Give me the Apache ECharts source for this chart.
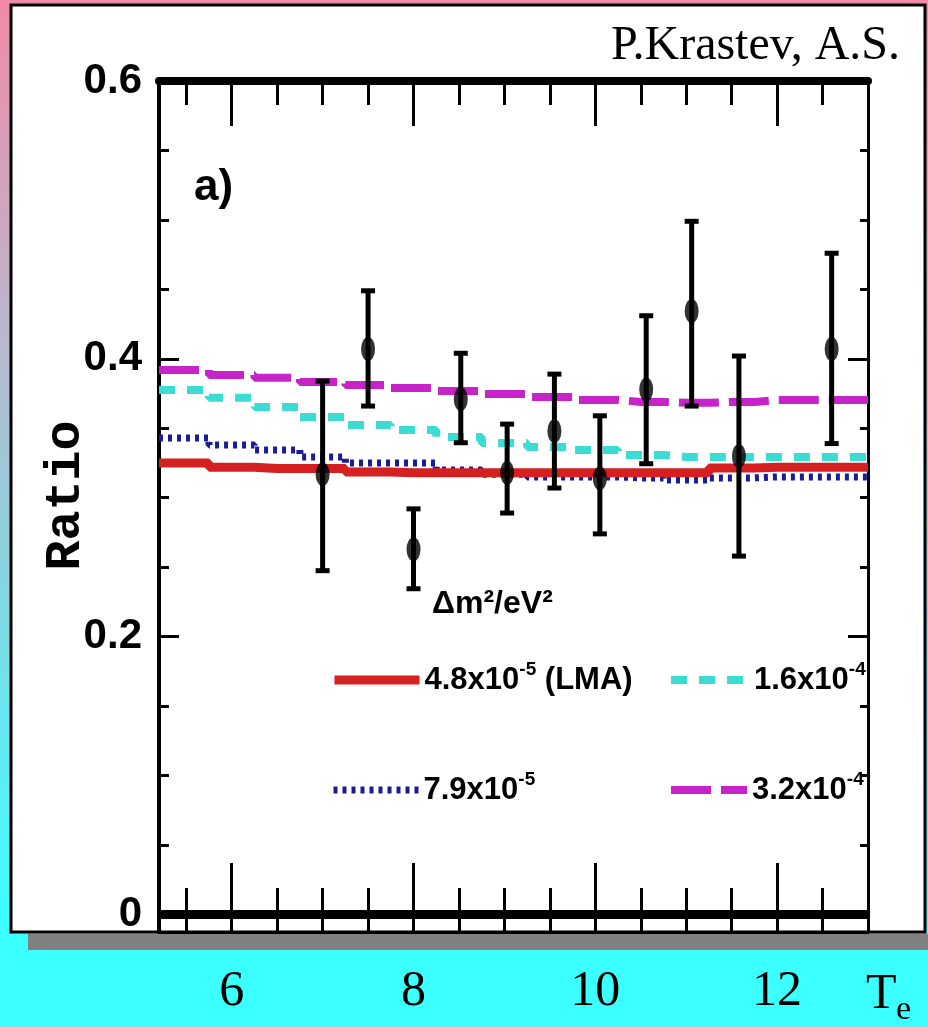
<!DOCTYPE html>
<html>
<head>
<meta charset="utf-8">
<script src="https://cdn.jsdelivr.net/npm/echarts@6/dist/echarts.min.js"></script>
<style>
html, body { margin: 0; padding: 0; }
#chart { width: 928px; height: 1027px; }
</style>
</head>
<body>
<div id="chart"></div>
<script>
// model curves: bin centres in MeV (first and last point pin the frame edges)
const binX = [5.2, 5.5, 6.0, 6.5, 7.0, 7.5, 8.0, 8.5, 9.0, 9.5, 10.0, 10.5, 11.0, 11.5, 12.0, 12.5, 13.0];
const lma48 = [0.325, 0.325, 0.322, 0.321, 0.321, 0.3186, 0.318, 0.318, 0.318, 0.318, 0.318, 0.318, 0.318, 0.3215, 0.322, 0.322, 0.322];
const dm79 = [0.343, 0.343, 0.338, 0.3344, 0.3294, 0.325, 0.325, 0.32, 0.317, 0.315, 0.315, 0.3143, 0.3128, 0.3143, 0.315, 0.315, 0.315];
const dm16 = [0.3776, 0.3776, 0.3719, 0.3654, 0.3582, 0.3524, 0.3488, 0.3438, 0.3395, 0.3366, 0.3344, 0.3308, 0.3294, 0.3294, 0.3294, 0.3294, 0.3294];
const dm32 = [0.392, 0.392, 0.3884, 0.3863, 0.3834, 0.3812, 0.379, 0.3769, 0.3747, 0.3726, 0.3704, 0.369, 0.3683, 0.369, 0.3704, 0.3704, 0.3704];

// measured ratio with errors
const dataX = [7.0, 7.5, 8.0, 8.52, 9.03, 9.55, 10.05, 10.56, 11.06, 11.58, 12.6];
const dataY = [0.317, 0.407, 0.263, 0.371, 0.318, 0.348, 0.314, 0.378, 0.4345, 0.330, 0.407];
const dataLo = [0.2475, 0.366, 0.2345, 0.3396, 0.289, 0.307, 0.274, 0.3245, 0.366, 0.258, 0.339];
const dataHi = [0.384, 0.449, 0.292, 0.404, 0.353, 0.389, 0.359, 0.431, 0.499, 0.402, 0.476];

// ticks
const majorX = [6, 8, 10, 12];
const minorX = [5.5, 6.5, 7, 7.5, 8.5, 9, 9.5, 10.5, 11, 11.5, 12.5];
const majorY = [0, 0.2, 0.4, 0.6];
const minorY = [0.05, 0.1, 0.15, 0.25, 0.3, 0.35, 0.45, 0.5, 0.55];

const sans = "'Liberation Sans Narrow', 'Liberation Sans', sans-serif";
const serif = "'Liberation Serif', 'DejaVu Serif', serif";

const chart = echarts.init(document.getElementById('chart'));

function xAx(pos, ticks, len, lineW, labels) {
  return {
    type: 'value', min: 5.2, max: 13, position: pos,
    axisLine: { show: lineW > 0, onZero: false, lineStyle: { color: '#000', width: lineW } },
    axisTick: { inside: true, length: len, customValues: ticks, lineStyle: { color: '#000', width: 3 } },
    axisLabel: labels ? {
      customValues: labels, margin: 35, color: '#000',
      fontFamily: serif, fontSize: 50
    } : { show: false },
    splitLine: { show: false }
  };
}
function yAx(pos, ticks, len, lineW, labels) {
  return {
    type: 'value', min: -0.0126, max: 0.6, position: pos,
    axisLine: { show: lineW > 0, onZero: false, lineStyle: { color: '#000', width: lineW } },
    axisTick: { inside: true, length: len, customValues: ticks, lineStyle: { color: '#000', width: 3 } },
    axisLabel: labels ? {
      customValues: labels, margin: 17, color: '#000',
      fontFamily: sans, fontWeight: 'bold', fontSize: 42
    } : { show: false },
    splitLine: { show: false }
  };
}

const yLeft = yAx('left', majorY, 20, 4, majorY);
yLeft.name = 'Ratio';
yLeft.nameLocation = 'middle';
yLeft.nameGap = 68;
yLeft.nameMoveOverlap = false;
yLeft.nameTextStyle = {
  fontFamily: "'Liberation Mono', 'DejaVu Sans Mono', monospace", fontWeight: 'bold',
  fontSize: 50, color: '#000', padding: [0, 0, 0, 22]
};

function theory(name, vals, color, width, type) {
  return {
    name: name, type: 'line', step: 'middle', symbol: 'none', z: 3,
    data: binX.map((x, i) => [x, vals[i]]),
    lineStyle: { color: color, width: width, type: type, cap: 'butt' },
    itemStyle: { color: color }
  };
}

const legendText = {
  fontFamily: sans, fontWeight: 'bold', fontSize: 31, lineHeight: 40, color: '#000',
  rich: {
    s: { fontFamily: sans, fontWeight: 'bold', fontSize: 19, lineHeight: 19, verticalAlign: 'top', color: '#000' }
  }
};
function leg(name, left, top, w, lw) {
  return {
    data: [name], left: left, top: top, padding: 0, itemWidth: w, itemHeight: 16,
    itemGap: 0, selectedMode: false, textStyle: legendText,
    formatter: n => n.replace('⁻⁵', '{s|-5}').replace('⁻⁴', '{s|-4}'),
    itemStyle: { opacity: 0 }, lineStyle: { width: lw }
  };
}

chart.setOption({
  animation: false,
  graphic: [
    { type: 'rect', z: -20, shape: { x: 0, y: 0, width: 928, height: 1027 },
      style: { fill: new echarts.graphic.LinearGradient(0, 0, 0, 1, [
        { offset: 0, color: '#f08aa8' },
        { offset: 0.33, color: '#b8b8cc' },
        { offset: 0.9, color: '#3cffff' },
        { offset: 1, color: '#3cffff' }
      ]) } },
    { type: 'rect', z: -10, shape: { x: 11, y: 5, width: 914, height: 927 },
      style: { fill: '#fff', stroke: '#000', lineWidth: 3 } },
    { type: 'rect', z: 100, shape: { x: 28, y: 934, width: 900, height: 16 },
      style: { fill: '#808080' } },
    { type: 'text', z: 100, x: 900, y: 46,
      style: { text: 'P.Krastev, A.S.', align: 'right', verticalAlign: 'middle', fill: '#000', font: "48px 'Liberation Serif'" } },
    { type: 'text', z: 100, x: 194, y: 188,
      style: { text: 'a)', align: 'left', verticalAlign: 'middle', fill: '#000', font: "bold 44px 'Liberation Sans'" } },
    { type: 'text', z: 100, x: 866, y: 995,
      style: { text: 'T', align: 'left', verticalAlign: 'middle', fill: '#000', font: "50px 'Liberation Serif'" } },
    { type: 'text', z: 100, x: 896, y: 1010,
      style: { text: 'e', align: 'left', verticalAlign: 'middle', fill: '#000', font: "34px 'Liberation Serif'" } }
  ],
  title: {
    text: 'Δm²/eV²', left: 432, top: 588, padding: 0,
    textStyle: { fontFamily: sans, fontWeight: 'bold', fontSize: 32, color: '#000' }
  },
  legend: [
    leg('4.8x10⁻⁵ (LMA)', 330, 660, 85, 9),
    leg('7.9x10⁻⁵', 330, 770, 85, 7),
    leg('1.6x10⁻⁴', 667, 660, 78, 8),
    leg('3.2x10⁻⁴', 667, 770, 76, 8)
  ],
  grid: { left: 159, right: 60, top: 81, bottom: 95 },
  xAxis: [
    xAx('bottom', majorX, 69, 3, majorX),
    xAx('bottom', minorX, 44, 0, null),
    xAx('top', majorX, 45, 8, null),
    xAx('top', minorX, 24, 0, null)
  ],
  yAxis: [
    yLeft,
    yAx('left', minorY, 10, 0, null),
    yAx('right', majorY, 20, 3, null),
    yAx('right', minorY, 8, 0, null)
  ],
  series: [
    theory('3.2x10⁻⁴', dm32, '#c624c8', 8, [40, 10]),
    theory('1.6x10⁻⁴', dm16, '#3cdcd2', 8, [16, 12]),
    theory('7.9x10⁻⁵', dm79, '#1c1c96', 7, [4, 5]),
    theory('4.8x10⁻⁵ (LMA)', lma48, '#d42020', 9, 'solid'),
    {
      type: 'custom', z: 5,
      data: dataX.map((x, i) => [x, dataLo[i], dataHi[i]]),
      encode: { x: 0, y: [1, 2] },
      renderItem: function (params, api) {
        const x = api.value(0);
        const bot = api.coord([x, api.value(1)]);
        const top = api.coord([x, api.value(2)]);
        const cw = 7;
        const cap = { stroke: '#000', lineWidth: 5 };
        return {
          type: 'group',
          children: [
            { type: 'line', shape: { x1: top[0], y1: top[1], x2: bot[0], y2: bot[1] }, style: { stroke: '#000', lineWidth: 5 } },
            { type: 'line', shape: { x1: top[0] - cw, y1: top[1], x2: top[0] + cw, y2: top[1] }, style: cap },
            { type: 'line', shape: { x1: bot[0] - cw, y1: bot[1], x2: bot[0] + cw, y2: bot[1] }, style: cap }
          ]
        };
      }
    },
    {
      type: 'scatter', z: 6,
      data: dataX.map((x, i) => [x, dataY[i]]),
      symbol: 'circle', symbolSize: [14, 24],
      itemStyle: { color: '#000' },
      markLine: {
        silent: true, symbol: 'none', label: { show: false },
        lineStyle: { color: '#000', width: 9, type: 'solid' },
        data: [{ yAxis: 0 }]
      }
    }
  ]
});
</script>
</body>
</html>
